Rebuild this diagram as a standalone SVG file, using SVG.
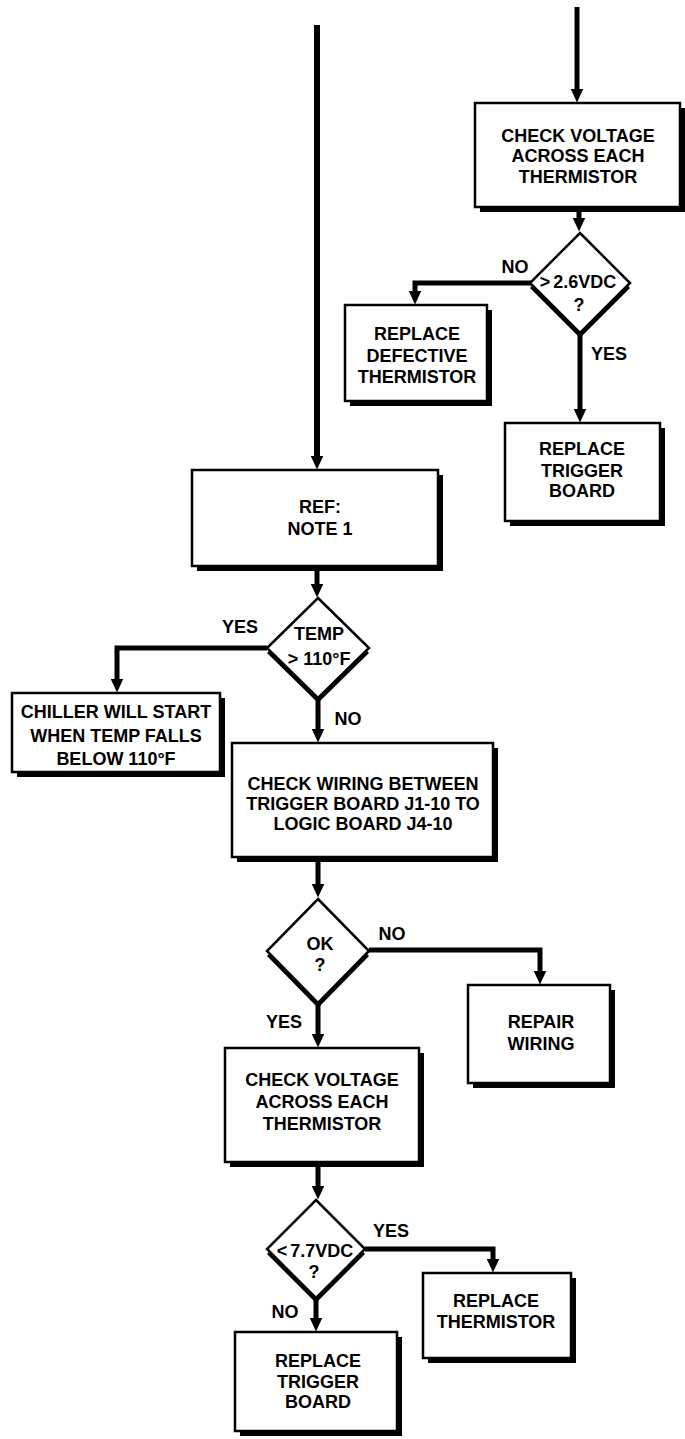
<svg xmlns="http://www.w3.org/2000/svg" width="685" height="1439" viewBox="0 0 685 1439">
<style>
text{font-family:"Liberation Sans",Arial,Helvetica,sans-serif;font-weight:bold;font-size:18px;fill:#000;text-anchor:middle}
.box{fill:#fff;stroke:#000;stroke-width:2.5}
.sh{fill:#000}
.dia{fill:#fff;stroke:#000;stroke-width:2.5;stroke-linejoin:miter}
.con{fill:none;stroke:#000;stroke-width:5;stroke-linejoin:miter;marker-end:url(#ah)}
</style>
<defs>
<marker id="ah" markerUnits="userSpaceOnUse" markerWidth="14" markerHeight="13" viewBox="0 0 14 13" refX="0.5" refY="6.5" orient="auto">
<path d="M0,0 L14,6.5 L0,13 Z" fill="#000"/>
</marker>
</defs>
<rect width="685" height="1439" fill="#fff"/>
<g id="connectors">
<path class="con" d="M577,7 V89"/>
<path class="con" d="M579,207 V218"/>
<path class="con" d="M532,283 H415 V291"/>
<path class="con" d="M580,333 V409"/>
<path class="con" style="stroke-width:6" d="M317,25 V456"/>
<path class="con" d="M317,566 V584"/>
<path class="con" d="M267,648 H117 V679"/>
<path class="con" d="M318,698 V729"/>
<path class="con" d="M318,857 V884"/>
<path class="con" d="M369,950 H540 V971"/>
<path class="con" d="M318,1003 V1034"/>
<path class="con" d="M318,1162 V1186"/>
<path class="con" d="M365,1249 H493 V1259"/>
<path class="con" d="M316,1297 V1318"/>
</g>
<g id="labels">
<text x="515" y="273">NO</text>
<text x="609" y="360">YES</text>
<text x="240" y="633">YES</text>
<text x="348" y="725">NO</text>
<text x="392" y="940">NO</text>
<text x="284" y="1028">YES</text>
<text x="391" y="1237">YES</text>
<text x="285" y="1318">NO</text>
</g>
<g id="checkVoltage1">
<rect class="sh" x="480" y="108" width="205" height="104"/>
<rect class="box" x="475" y="103" width="205" height="104"/>
<text x="578" y="142">CHECK VOLTAGE</text>
<text x="578" y="162">ACROSS EACH</text>
<text x="578" y="183">THERMISTOR</text>
</g>
<g id="decision1">
<polygon class="sh" points="580,238 630,288 580,338 530,288"/>
<polygon class="dia" points="580,233 630,283 580,333 530,283"/>
<text x="578" y="288">&gt;<tspan dx="3">2.6VDC</tspan></text>
<text x="579" y="311">?</text>
</g>
<g id="replaceDefective">
<rect class="sh" x="350" y="310" width="142" height="96"/>
<rect class="box" x="345" y="305" width="142" height="96"/>
<text x="417" y="340">REPLACE</text>
<text x="417" y="362">DEFECTIVE</text>
<text x="417" y="383">THERMISTOR</text>
</g>
<g id="replaceTrigger1">
<rect class="sh" x="510" y="428" width="155" height="98"/>
<rect class="box" x="505" y="423" width="155" height="98"/>
<text x="582" y="455">REPLACE</text>
<text x="582" y="477">TRIGGER</text>
<text x="582" y="497">BOARD</text>
</g>
<g id="refNote">
<rect class="sh" x="197" y="475" width="246" height="96"/>
<rect class="box" x="192" y="470" width="246" height="96"/>
<text x="320" y="513">REF:</text>
<text x="320" y="535">NOTE 1</text>
</g>
<g id="decisionTemp">
<polygon class="sh" points="318,603 369,653 318,703 267,653"/>
<polygon class="dia" points="318,598 369,648 318,698 267,648"/>
<text x="319" y="640">TEMP</text>
<text x="319" y="665">&gt; 110°F</text>
</g>
<g id="chillerStart">
<rect class="sh" x="17" y="698" width="208" height="79"/>
<rect class="box" x="12" y="693" width="208" height="79"/>
<text x="116" y="718">CHILLER WILL START</text>
<text x="116" y="742">WHEN TEMP FALLS</text>
<text x="116" y="765">BELOW 110°F</text>
</g>
<g id="checkWiring">
<rect class="sh" x="237" y="748" width="261" height="114"/>
<rect class="box" x="232" y="743" width="261" height="114"/>
<text x="363" y="790">CHECK WIRING BETWEEN</text>
<text x="363" y="810">TRIGGER BOARD J1-10 TO</text>
<text x="363" y="830">LOGIC BOARD J4-10</text>
</g>
<g id="decisionOK">
<polygon class="sh" points="318,904 369,956 318,1008 267,956"/>
<polygon class="dia" points="318,899 369,951 318,1003 267,951"/>
<text x="320" y="950">OK</text>
<text x="320" y="971">?</text>
</g>
<g id="repairWiring">
<rect class="sh" x="473" y="990" width="142" height="98"/>
<rect class="box" x="468" y="985" width="142" height="98"/>
<text x="541" y="1028">REPAIR</text>
<text x="541" y="1050">WIRING</text>
</g>
<g id="checkVoltage2">
<rect class="sh" x="230" y="1053" width="194" height="114"/>
<rect class="box" x="225" y="1048" width="194" height="114"/>
<text x="322" y="1086">CHECK VOLTAGE</text>
<text x="322" y="1108">ACROSS EACH</text>
<text x="322" y="1130">THERMISTOR</text>
</g>
<g id="decision3">
<polygon class="sh" points="316,1205 365,1254 316,1303 267,1254"/>
<polygon class="dia" points="316,1200 365,1249 316,1298 267,1249"/>
<text x="315" y="1257">&lt;<tspan dx="3">7.7VDC</tspan></text>
<text x="314" y="1278">?</text>
</g>
<g id="replaceThermistor">
<rect class="sh" x="428" y="1278" width="148" height="85"/>
<rect class="box" x="423" y="1273" width="148" height="85"/>
<text x="496" y="1307">REPLACE</text>
<text x="496" y="1328">THERMISTOR</text>
</g>
<g id="replaceTrigger2">
<rect class="sh" x="240" y="1337" width="162" height="99"/>
<rect class="box" x="235" y="1332" width="162" height="99"/>
<text x="318" y="1367">REPLACE</text>
<text x="318" y="1388">TRIGGER</text>
<text x="318" y="1408">BOARD</text>
</g>
</svg>
